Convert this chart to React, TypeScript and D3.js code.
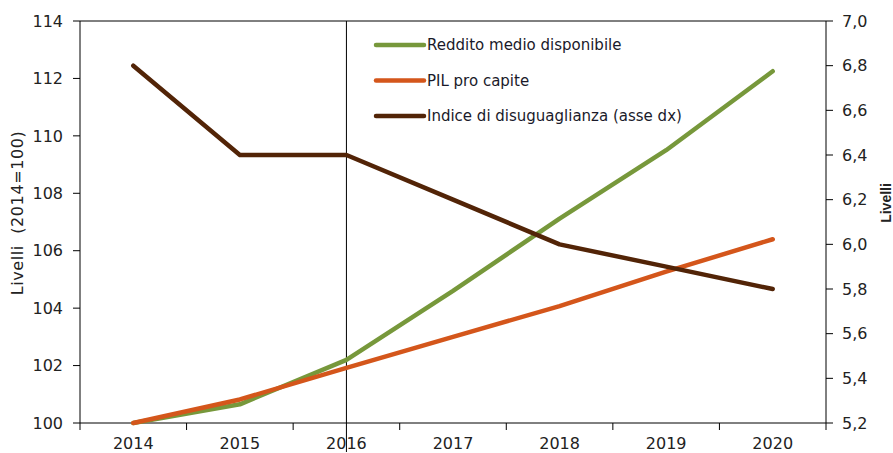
import React from "react";
import * as d3 from "d3";

const years = ["2014", "2015", "2016", "2017", "2018", "2019", "2020"];
const reddito = [100, 100.65, 102.2, 104.6, 107.12, 109.5, 112.25];
const pil = [100, 100.82, 101.92, 103.0, 104.07, 105.27, 106.4];
const indice = [6.8, 6.4, 6.4, 6.2, 6.0, 5.9, 5.8];
const leftTicks = [100, 102, 104, 106, 108, 110, 112, 114];
const rightTicks = [5.2, 5.4, 5.6, 5.8, 6.0, 6.2, 6.4, 6.6, 6.8, 7.0];
const legendLabels = ["Reddito medio disponibile", "PIL pro capite", "Indice di disuguaglianza (asse dx)"];
const colors = ["#77983b", "#d4561b", "#522407"];

export default function App() {
  const W = 893, H = 453;
  const left = 80, right = 826, top = 21, bottom = 423;
  const x = d3.scaleBand<string>().domain(years).range([left, right]).padding(0);
  const yL = d3.scaleLinear().domain([100, 114]).range([bottom, top]);
  const yR = d3.scaleLinear().domain([5.2, 7.0]).range([bottom, top]);
  const cx = (y: string) => (x(y) as number) + x.bandwidth() / 2;
  const lineL = d3.line<number>().x((_, i) => cx(years[i])).y((d) => yL(d)).curve(d3.curveLinear);
  const lineR = d3.line<number>().x((_, i) => cx(years[i])).y((d) => yR(d)).curve(d3.curveLinear);
  const font = "'DejaVu Sans', sans-serif";
  const fmt = (v: number) => v.toFixed(1).replace(".", ",");
  const bounds = years.map((y) => x(y) as number).concat([right]);
  const series = [lineL(reddito), lineL(pil), lineR(indice)];

  return (
    <svg width={W} height={H} style={{ position: "absolute", left: 0, top: 0, background: "#fff" }} fontFamily={font}>
      <line x1={left} x2={right} y1={top} y2={top} stroke="#000" strokeWidth={1} />
      <line x1={left} x2={left} y1={top} y2={bottom} stroke="#000" strokeWidth={1} />
      <line x1={right} x2={right} y1={top} y2={bottom} stroke="#000" strokeWidth={1} />
      <line x1={left} x2={right} y1={bottom} y2={bottom} stroke="#000" strokeWidth={1} />
      <line x1={cx("2016")} x2={cx("2016")} y1={top} y2={452} stroke="#000" strokeWidth={1} />
      {leftTicks.map((t) => (
        <g key={"l" + t}>
          <line x1={left - 7} x2={left} y1={yL(t)} y2={yL(t)} stroke="#000" />
          <text x={63} y={yL(t)} dy="0.36em" textAnchor="end" fontSize={16} fill="#222">{t}</text>
        </g>
      ))}
      {rightTicks.map((t) => (
        <g key={"r" + t}>
          <line x1={right} x2={right + 7} y1={yR(t)} y2={yR(t)} stroke="#000" />
          <text x={842} y={yR(t)} dy="0.36em" textAnchor="start" fontSize={16} fill="#222">{fmt(t)}</text>
        </g>
      ))}
      {bounds.map((b, i) => (
        <line key={"b" + i} x1={b} x2={b} y1={bottom} y2={bottom + 7} stroke="#000" />
      ))}
      {years.map((y) => (
        <text key={"y" + y} x={cx(y)} y={449} textAnchor="middle" fontSize={16} fill="#222">{y}</text>
      ))}
      <text transform={`translate(17,213) rotate(-90)`} textAnchor="middle" dy="0.35em" fontSize={16} letterSpacing={0.6} fill="#222" style={{ whiteSpace: "pre" }}>{"Livelli  (2014=100)"}</text>
      <text transform={`translate(886,203) rotate(-90)`} textAnchor="middle" dy="0.35em" fontSize={14} fontWeight="bold" fontFamily="'Liberation Sans', Arial, sans-serif" fill="#222">Livelli</text>
      {series.map((d, i) => (
        <path key={"s" + i} d={d as string} fill="none" stroke={colors[i]} strokeWidth={4.5} strokeLinecap="round" strokeLinejoin="round" />
      ))}
      {legendLabels.map((l, i) => (
        <g key={"lg" + i}>
          <line x1={376} x2={424} y1={45 + i * 35.5} y2={45 + i * 35.5} stroke={colors[i]} strokeWidth={4.5} strokeLinecap="round" />
          <text x={427} y={45 + i * 35.5} dy="0.36em" fontSize={15} fill="#1a1a2a">{l}</text>
        </g>
      ))}
    </svg>
  );
}
